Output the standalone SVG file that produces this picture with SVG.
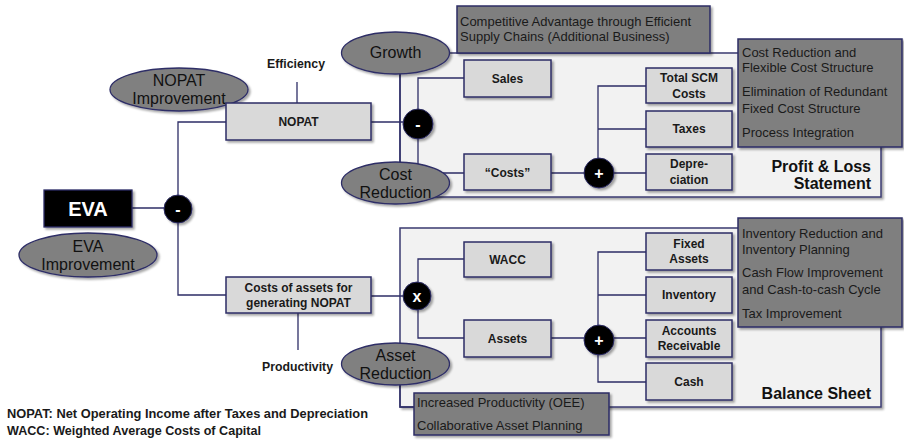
<svg xmlns="http://www.w3.org/2000/svg" width="904" height="443" viewBox="0 0 904 443">
<defs>
<filter id="sh" x="-20%" y="-20%" width="140%" height="150%">
<feDropShadow dx="2" dy="2" stdDeviation="1.2" flood-color="#000" flood-opacity="0.35"/>
</filter>
<style>
text{font-family:"Liberation Sans",Arial,sans-serif;}
.ln{stroke:#2d2d66;stroke-width:1.3;fill:none;}
.panel{fill:#f2f2f2;stroke:#3a3a70;stroke-width:1.5;filter:url(#sh);}
.box{fill:#d9d9d9;stroke:#2d2d66;stroke-width:1.5;filter:url(#sh);}
.dark{fill:#7f7f7f;stroke:#2d2d66;stroke-width:1.5;filter:url(#sh);}
.ell{fill:#808080;stroke:#2d2d66;stroke-width:1.3;filter:url(#sh);}
.op{fill:#000;stroke:#2d2d66;stroke-width:1;filter:url(#sh);}
.bl{font-size:12px;font-weight:bold;fill:#1a1a1a;text-anchor:middle;}
.dt{font-size:13px;fill:#1a1a1a;}
.et{font-size:16px;fill:#111;text-anchor:middle;}
.ot{font-size:16px;font-weight:bold;fill:#fff;text-anchor:middle;}
.lb{font-size:12px;font-weight:bold;fill:#1a1a1a;}
.pt{font-size:16px;font-weight:bold;fill:#111;text-anchor:end;}
</style>
</defs>
<rect width="904" height="443" fill="#fff"/>

<g id="panel-pl"><rect class="panel" x="400" y="53" width="481" height="144"/>
<text class="pt" x="871" y="172">Profit &amp; Loss</text><text class="pt" x="871" y="189">Statement</text></g>
<g id="panel-bs"><rect class="panel" x="400" y="228" width="481" height="179"/>
<text class="pt" x="871" y="399">Balance Sheet</text></g>

<g id="connectors">
<path class="ln" d="M132 208H165"/>
<path class="ln" d="M226 122H178V295H226"/>
<path class="ln" d="M297 82V103"/>
<path class="ln" d="M298 313V350"/>
<path class="ln" d="M371 122H404"/>
<path class="ln" d="M371 296H404"/>
<path class="ln" d="M400 74V162"/>
<path class="ln" d="M464 78H418V173H464"/>
<path class="ln" d="M464 259H418V338H464"/>
<path class="ln" d="M551 173H598"/>
<path class="ln" d="M646 86H598V173H646M598 129H646"/>
<path class="ln" d="M551 338H598"/>
<path class="ln" d="M646 252H598V382H646M598 295H646M598 338H646"/>
<path class="ln" d="M400 385V407H414"/>
</g>

<g id="eva"><rect x="44" y="190" width="88" height="37" fill="#000" stroke="#2d2d66" stroke-width="1.3" filter="url(#sh)"/>
<text x="88" y="216" font-size="20" font-weight="bold" fill="#fff" text-anchor="middle">EVA</text></g>
<g id="eva-imp"><ellipse class="ell" cx="88" cy="255" rx="69" ry="22"/>
<text class="et" x="88" y="252">EVA</text><text class="et" x="88" y="270">Improvement</text></g>
<g id="nopat-imp"><ellipse class="ell" cx="179" cy="89.5" rx="69" ry="21.5"/>
<text class="et" x="179" y="86">NOPAT</text><text class="et" x="179" y="104">Improvement</text></g>

<g id="op-eva"><circle class="op" cx="178" cy="209" r="14"/><text class="ot" x="178" y="215">-</text></g>
<g id="op-nopat"><circle class="op" cx="418" cy="124" r="15"/><text class="ot" x="418" y="130">-</text></g>
<g id="op-x"><circle class="op" cx="417" cy="296" r="14"/><text class="ot" x="417" y="302">x</text></g>
<g id="op-plus1"><circle class="op" cx="599" cy="173" r="15"/><text class="ot" x="599" y="179">+</text></g>
<g id="op-plus2"><circle class="op" cx="599" cy="340" r="15"/><text class="ot" x="599" y="346">+</text></g>

<g id="efficiency"><text class="lb" x="267" y="68" textLength="58" lengthAdjust="spacingAndGlyphs">Efficiency</text></g>
<g id="productivity"><text class="lb" x="262" y="371" textLength="71" lengthAdjust="spacingAndGlyphs">Productivity</text></g>

<g id="nopat"><rect class="box" x="226" y="103" width="145" height="37"/><text class="bl" x="298.5" y="126">NOPAT</text></g>
<g id="costs-assets"><rect class="box" x="226" y="277" width="145" height="36"/>
<text class="bl" x="298.5" y="292">Costs of assets for</text><text class="bl" x="298.5" y="307">generating NOPAT</text></g>

<g id="growth"><ellipse class="ell" cx="395.5" cy="53" rx="54" ry="21"/><text class="et" x="395.5" y="58">Growth</text></g>
<g id="cost-red"><ellipse class="ell" cx="395.5" cy="183" rx="54" ry="21"/>
<text class="et" x="395.5" y="180">Cost</text><text class="et" x="395.5" y="198">Reduction</text></g>
<g id="asset-red"><ellipse class="ell" cx="395.5" cy="364" rx="54" ry="21"/>
<text class="et" x="395.5" y="361">Asset</text><text class="et" x="395.5" y="379">Reduction</text></g>

<g id="sales"><rect class="box" x="464" y="60" width="87" height="37"/><text class="bl" x="507.5" y="83">Sales</text></g>
<g id="costs"><rect class="box" x="464" y="154" width="87" height="36"/><text class="bl" x="507.5" y="177">“Costs”</text></g>
<g id="wacc"><rect class="box" x="464" y="242" width="87" height="35"/><text class="bl" x="507.5" y="264">WACC</text></g>
<g id="assets"><rect class="box" x="464" y="320" width="87" height="37"/><text class="bl" x="507.5" y="343">Assets</text></g>

<g id="scm"><rect class="box" x="646" y="68" width="86" height="35"/>
<text class="bl" x="689" y="82">Total SCM</text><text class="bl" x="689" y="98">Costs</text></g>
<g id="taxes"><rect class="box" x="646" y="111" width="86" height="36"/><text class="bl" x="689" y="133">Taxes</text></g>
<g id="depr"><rect class="box" x="646" y="154" width="86" height="36"/>
<text class="bl" x="689" y="168">Depre-</text><text class="bl" x="689" y="184">ciation</text></g>
<g id="fixed"><rect class="box" x="646" y="233" width="86" height="37"/>
<text class="bl" x="689" y="248">Fixed</text><text class="bl" x="689" y="263">Assets</text></g>
<g id="inventory"><rect class="box" x="646" y="277" width="86" height="36"/><text class="bl" x="689" y="299">Inventory</text></g>
<g id="ar"><rect class="box" x="646" y="320" width="86" height="37"/>
<text class="bl" x="689" y="335">Accounts</text><text class="bl" x="689" y="350">Receivable</text></g>
<g id="cash"><rect class="box" x="646" y="363" width="86" height="37"/><text class="bl" x="689" y="386">Cash</text></g>

<g id="competitive"><rect class="dark" x="457" y="6" width="253" height="47"/>
<text class="dt" x="460" y="26">Competitive Advantage through Efficient</text>
<text class="dt" x="460" y="41">Supply Chains (Additional Business)</text></g>
<g id="cr-box"><rect class="dark" x="738" y="39" width="164" height="108"/>
<text class="dt" x="742" y="57">Cost Reduction and</text>
<text class="dt" x="742" y="72">Flexible Cost Structure</text>
<text class="dt" x="742" y="96">Elimination of Redundant</text>
<text class="dt" x="742" y="113">Fixed Cost Structure</text>
<text class="dt" x="742" y="137">Process Integration</text></g>
<g id="inv-box"><rect class="dark" x="738" y="218" width="164" height="109"/>
<text class="dt" x="742" y="238">Inventory Reduction and</text>
<text class="dt" x="742" y="254">Inventory Planning</text>
<text class="dt" x="742" y="277">Cash Flow Improvement</text>
<text class="dt" x="742" y="294">and Cash-to-cash Cycle</text>
<text class="dt" x="742" y="318">Tax Improvement</text></g>
<g id="prod-box"><rect class="dark" x="414" y="393" width="195" height="42"/>
<text class="dt" x="417" y="407">Increased Productivity (OEE)</text>
<text class="dt" x="417" y="430">Collaborative Asset Planning</text></g>

<g id="notes">
<text class="lb" x="7" y="418" textLength="361" lengthAdjust="spacingAndGlyphs">NOPAT: Net Operating Income after Taxes and Depreciation</text>
<text class="lb" x="7" y="435" textLength="254" lengthAdjust="spacingAndGlyphs">WACC: Weighted Average Costs of Capital</text>
</g>
</svg>
